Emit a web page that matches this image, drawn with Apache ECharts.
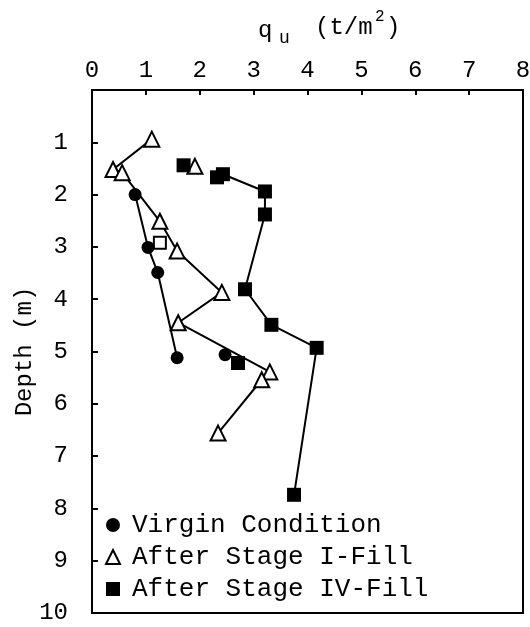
<!DOCTYPE html>
<html>
<head>
<meta charset="utf-8">
<script src="https://cdn.jsdelivr.net/npm/echarts@6/dist/echarts.min.js"></script>
<style>
  html, body { margin: 0; padding: 0; background: #fff; }
  #chart { width: 530px; height: 627px; }
</style>
</head>
<body>
<div id="chart"></div>
<script>
// Unconfined compressive strength qu (t/m^2) versus depth (m)
const qTicks = [0, 1, 2, 3, 4, 5, 6, 7, 8];
const depthTicks = [1, 2, 3, 4, 5, 6, 7, 8, 9, 10];

const virginQ = [0.80, 1.04, 1.22, 1.58];
const virginDepth = [2.00, 3.01, 3.49, 5.12];
const virginLooseQ = [2.47];
const virginLooseDepth = [5.06];

const stage1Q = [1.11, 0.39, 0.56, 1.26, 1.58, 2.41, 1.60, 3.30, 3.15, 2.34];
const stage1Depth = [0.94, 1.52, 1.58, 2.51, 3.08, 3.87, 4.45, 5.39, 5.54, 6.56];
const stage1LooseQ = [1.91];
const stage1LooseDepth = [1.46];

const stage4Q = [2.32, 2.43, 3.21, 3.21, 2.84, 3.33, 4.17, 3.75];
const stage4Depth = [1.67, 1.61, 1.94, 2.38, 3.81, 4.49, 4.93, 7.74];
const stage4LooseQ = [1.70, 2.71];
const stage4LooseDepth = [1.44, 5.22];

const openSquareQ = [1.26];
const openSquareDepth = [2.92];

const seriesNames = ['Virgin Condition', 'After Stage I-Fill', 'After Stage IV-Fill'];

const FONT = '"Liberation Mono", "DejaVu Sans Mono", monospace';
const pairs = (xs, ys) => xs.map((x, i) => [x, ys[i]]);

const filled = { color: '#000', opacity: 1 };
const hollow = { color: '#fff', borderColor: '#000', borderWidth: 2, opacity: 1 };
const lineStyle = { color: '#000', width: 2 };

const chart = echarts.init(document.getElementById('chart'), null, { renderer: 'canvas' });

chart.setOption({
  animation: false,
  backgroundColor: '#fff',
  grid: {
    left: 92, right: 7, top: 90, bottom: 14,
    outerBoundsMode: 'none', containLabel: false,
    show: true, borderColor: '#000', borderWidth: 2, backgroundColor: 'transparent'
  },
  xAxis: {
    type: 'value', position: 'top', min: 0, max: 8, interval: 1,
    axisLine: { show: true, onZero: false, lineStyle: { color: '#000', width: 2 } },
    axisTick: { show: true, inside: true, length: 5, lineStyle: { color: '#000', width: 2 } },
    axisLabel: { color: '#000', fontFamily: FONT, fontSize: 24, margin: 7,
      formatter: v => (qTicks.indexOf(v) >= 0 ? String(v) : '') },
    splitLine: { show: false }
  },
  yAxis: {
    type: 'value', inverse: true, min: 0, max: 10, interval: 1,
    name: 'Depth (m)', nameLocation: 'middle', nameGap: 55, nameMoveOverlap: false,
    nameTextStyle: { color: '#000', fontFamily: FONT, fontSize: 24 },
    axisLine: { show: true, onZero: false, lineStyle: { color: '#000', width: 2 } },
    axisTick: { show: true, inside: true, length: 6, lineStyle: { color: '#000', width: 2 } },
    axisLabel: { color: '#000', fontFamily: FONT, fontSize: 24, margin: 24,
      formatter: v => (depthTicks.indexOf(v) >= 0 ? String(v) : '') },
    splitLine: { show: false }
  },
  legend: {
    left: 100, top: 507, orient: 'vertical', itemGap: 6,
    itemWidth: 14, itemHeight: 14,
    textStyle: { color: '#000', fontFamily: FONT, fontSize: 26, padding: [0, 0, 0, 7] },
    data: [
      { name: seriesNames[0], icon: 'circle', itemStyle: filled },
      { name: seriesNames[1], icon: 'triangle', itemStyle: hollow },
      { name: seriesNames[2], icon: 'rect', itemStyle: filled }
    ]
  },
  graphic: [
    { type: 'text', left: 258, top: 19, style: { text: 'q', font: '24px ' + FONT, fill: '#000' } },
    { type: 'text', left: 279, top: 29, style: { text: 'u', font: '18px ' + FONT, fill: '#000' } },
    { type: 'text', left: 315, top: 16, style: { text: '(t/m', font: '24px ' + FONT, fill: '#000' } },
    { type: 'text', left: 375, top: 9, style: { text: '2', font: '16px ' + FONT, fill: '#000' } },
    { type: 'text', left: 386, top: 16, style: { text: ')', font: '24px ' + FONT, fill: '#000' } }
  ],
  series: [
    {
      name: seriesNames[0], type: 'line', data: pairs(virginQ, virginDepth),
      symbol: 'circle', symbolSize: 13, itemStyle: filled, lineStyle
    },
    {
      name: seriesNames[1], type: 'line', data: pairs(stage1Q, stage1Depth),
      symbol: 'triangle', symbolSize: 15, itemStyle: hollow, lineStyle, z: 3
    },
    {
      name: seriesNames[2], type: 'line', data: pairs(stage4Q, stage4Depth),
      symbol: 'rect', symbolSize: 14, itemStyle: filled, lineStyle
    },
    {
      name: 'virgin-single', type: 'scatter', data: pairs(virginLooseQ, virginLooseDepth),
      symbol: 'circle', symbolSize: 13, itemStyle: filled
    },
    {
      name: 'stage1-single', type: 'scatter', data: pairs(stage1LooseQ, stage1LooseDepth),
      symbol: 'triangle', symbolSize: 15, itemStyle: hollow
    },
    {
      name: 'stage4-single', type: 'scatter', data: pairs(stage4LooseQ, stage4LooseDepth),
      symbol: 'rect', symbolSize: 14, itemStyle: filled
    },
    {
      name: 'open-square', type: 'scatter', data: pairs(openSquareQ, openSquareDepth),
      symbol: 'rect', symbolSize: 12, itemStyle: hollow
    }
  ]
});
</script>
</body>
</html>
